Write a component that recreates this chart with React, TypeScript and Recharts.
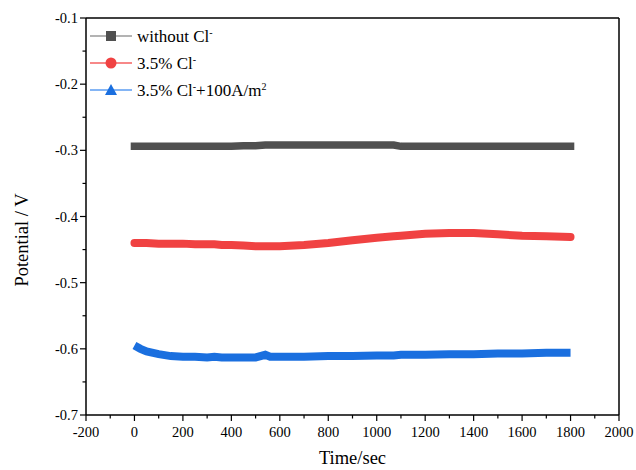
import { Line, LineChart, ReferenceLine, XAxis, YAxis } from 'recharts'

// Open-circuit potential vs time, three conditions

const TIME = [0, 25, 50, 100, 150, 200, 250, 300, 330, 360, 400, 450, 500, 540, 560, 600, 700, 800, 900, 1000, 1070, 1100, 1200, 1300, 1400, 1500, 1600, 1700, 1800]

const NO_CL = [-0.294, -0.294, -0.294, -0.294, -0.294, -0.294, -0.294, -0.294, -0.294, -0.294, -0.294, -0.293, -0.293, -0.292, -0.292, -0.292, -0.292, -0.292, -0.292, -0.292, -0.292, -0.294, -0.294, -0.294, -0.294, -0.294, -0.294, -0.294, -0.294]

const CL = [-0.440, -0.440, -0.440, -0.441, -0.441, -0.441, -0.442, -0.442, -0.442, -0.443, -0.443, -0.444, -0.445, -0.445, -0.445, -0.445, -0.443, -0.440, -0.436, -0.432, -0.430, -0.429, -0.426, -0.425, -0.425, -0.427, -0.429, -0.430, -0.431]

const CL_CURRENT = [-0.595, -0.600, -0.604, -0.608, -0.611, -0.612, -0.612, -0.613, -0.612, -0.613, -0.613, -0.613, -0.613, -0.609, -0.612, -0.612, -0.612, -0.611, -0.611, -0.610, -0.610, -0.609, -0.609, -0.608, -0.608, -0.607, -0.607, -0.606, -0.606]

const X_TICKS = [-200, -100, 0, 100, 200, 300, 400, 500, 600, 700, 800, 900, 1000, 1100, 1200, 1300, 1400, 1500, 1600, 1700, 1800, 1900, 2000]
const Y_TICKS = [-0.7, -0.65, -0.6, -0.55, -0.5, -0.45, -0.4, -0.35, -0.3, -0.25, -0.2, -0.15, -0.1]

const GRAY = '#505050'
const RED = '#f04242'
const BLUE = '#1a6fdf'
const FONT = '"Liberation Serif", "Times New Roman", serif'

const data = TIME.map((t, i) => ({ t, a: NO_CL[i], b: CL[i], c: CL_CURRENT[i] }))

function XTick({ x, y, payload }: any) {
  const major = Math.round(payload.value) % 200 === 0
  return (
    <g>
      <line x1={x} x2={x} y1={y} y2={y + (major ? 6 : 3.5)} stroke="#000" strokeWidth={1.2} />
      {major && (
        <text x={x} y={y + 22} textAnchor="middle" fontSize={14.5} fontFamily={FONT} fill="#000">
          {payload.value}
        </text>
      )}
    </g>
  )
}

function YTick({ x, y, payload }: any) {
  const major = Math.round(payload.value * 100) % 10 === 0
  return (
    <g>
      <line x1={x} x2={x - (major ? 6 : 3.5)} y1={y} y2={y} stroke="#000" strokeWidth={1.2} />
      {major && (
        <text x={x - 8} y={y + 5} textAnchor="end" fontSize={14.5} fontFamily={FONT} fill="#000">
          {payload.value.toFixed(1)}
        </text>
      )}
    </g>
  )
}

function YTitle() {
  return (
    <text transform="translate(28, 240) rotate(-90)" textAnchor="middle" fontSize={18.5} fontFamily={FONT} fill="#000">
      Potential / V
    </text>
  )
}

const LEGEND = [
  { key: 'a', line: '#9a9a9a', color: GRAY, shape: 'square', label: <>without Cl<tspan dy={-6} fontSize={10}>-</tspan></> },
  { key: 'b', line: '#f56060', color: RED, shape: 'circle', label: <>3.5% Cl<tspan dy={-6} fontSize={10}>-</tspan></> },
  {
    key: 'c', line: '#5b9cf2', color: BLUE, shape: 'triangle',
    label: <>3.5% Cl<tspan dy={-6} fontSize={10}>-</tspan><tspan dy={6}>+100A/m</tspan><tspan dy={-6} fontSize={10}>2</tspan></>,
  },
]

function LegendBox() {
  return (
    <svg width={260} height={84} style={{ position: 'absolute', left: 88, top: 26 }}>
      {LEGEND.map((it, i) => {
        const cy = 10 + i * 27
        return (
          <g key={it.key}>
            <line x1={2} x2={44} y1={cy} y2={cy} stroke={it.line} strokeWidth={1.5} />
            {it.shape === 'square' && <rect x={18} y={cy - 5} width={10} height={10} fill={it.color} />}
            {it.shape === 'circle' && <circle cx={23} cy={cy} r={5.5} fill={it.color} />}
            {it.shape === 'triangle' && <polygon points={`${23},${cy - 6} ${29},${cy + 5} ${17},${cy + 5}`} fill={it.color} />}
            <text x={49} y={cy + 6} fontSize={17} fontFamily={FONT} fill="#000">{it.label}</text>
          </g>
        )
      })}
    </svg>
  )
}

export default function App() {
  return (
    <div style={{ position: 'absolute', left: 0, top: 0, width: 636, height: 470, background: '#fff' }}>
      <LineChart width={636} height={470} data={data} margin={{ top: 18, right: 17, bottom: 0, left: 0 }}>
        <XAxis
          type="number"
          dataKey="t"
          domain={[-200, 2000]}
          ticks={X_TICKS}
          interval={0}
          tickLine={false}
          tickSize={0}
          tickMargin={0}
          tick={<XTick />}
          height={55}
          stroke="#000"
          strokeWidth={1.5}
          label={{ value: 'Time/sec', position: 'insideBottom', offset: 0, fontSize: 18.5, fontFamily: FONT, fill: '#000', dy: -6 }}
        />
        <YAxis
          type="number"
          domain={[-0.7, -0.1]}
          ticks={Y_TICKS}
          interval={0}
          tickLine={false}
          tickSize={0}
          tickMargin={0}
          tick={<YTick />}
          width={86}
          stroke="#000"
          strokeWidth={1.5}
          label={{ content: () => <YTitle /> }}
        />
        <ReferenceLine y={-0.1} stroke="#000" strokeWidth={1.5} />
        <ReferenceLine x={2000} stroke="#000" strokeWidth={1.5} />
        <Line dataKey="a" stroke={GRAY} strokeWidth={7.5} dot={false} strokeLinecap="square" isAnimationActive={false} />
        <Line dataKey="b" stroke={RED} strokeWidth={8} dot={false} strokeLinecap="round" isAnimationActive={false} />
        <Line dataKey="c" stroke={BLUE} strokeWidth={8} dot={false} strokeLinecap="butt" isAnimationActive={false} />
      </LineChart>
      <LegendBox />
    </div>
  )
}
